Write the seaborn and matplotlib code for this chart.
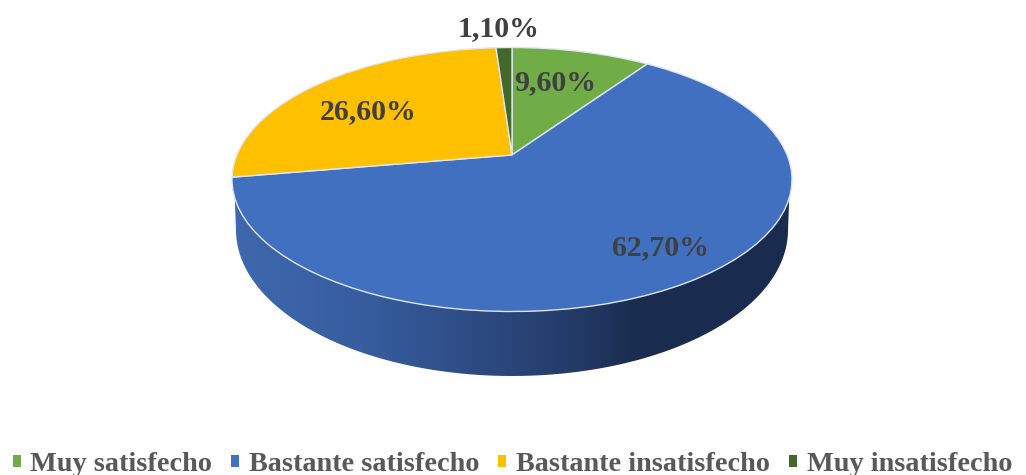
import numpy as np
import matplotlib
matplotlib.use("Agg")
import matplotlib.pyplot as plt
from matplotlib.colors import LinearSegmentedColormap
from matplotlib.patches import Polygon
from matplotlib.transforms import Transform
import seaborn as sns

# Survey results
categories = ["Muy satisfecho", "Bastante satisfecho", "Bastante insatisfecho", "Muy insatisfecho"]
shares = [9.6, 62.7, 26.6, 1.1]
slice_colors = ["#70AD47", "#4270C0", "#FFC000", "#43682B"]
label_centers_px = [(555, 83), (660, 248), (368, 112), (499, 29)]

# Geometry of the drawn disc, in figure pixels
WIDTH, HEIGHT = 1026, 475
TOP_CX, TOP_CY, TOP_RX, TOP_RY = 512, 179.5, 280, 132
BOTTOM_CY, BOTTOM_RX, BOTTOM_RY = 230, 276, 146
APEX_SHIFT = 0.186  # perspective displacement of the pie centre


class TiltedDisc(Transform):
    """Projective map of the unit disc onto itself that moves its centre upward."""
    input_dims = 2
    output_dims = 2

    def __init__(self, shift):
        super().__init__()
        self.shift = shift

    def transform_non_affine(self, values):
        xy = np.asarray(values, dtype=float)
        c = self.shift
        denom = 1 + c * xy[:, 1]
        return np.column_stack([xy[:, 0] * np.sqrt(1 - c * c) / denom, (xy[:, 1] + c) / denom])


def to_data(px, py):
    return (px - TOP_CX) / TOP_RX, (TOP_CY - py) / TOP_RY


sns.set_theme(style="white")
plt.rcParams["font.family"] = ["Liberation Serif", "DejaVu Serif"]
palette = sns.color_palette(slice_colors)

fig = plt.figure(figsize=(WIDTH / 100, HEIGHT / 100), dpi=100)
ax = fig.add_axes([0, 0, 1, 1])

wedges, _ = ax.pie(shares, colors=palette, startangle=90, counterclock=False,
                   wedgeprops={"edgecolor": "#dfe6f2", "linewidth": 1.0})
disc = TiltedDisc(APEX_SHIFT) + ax.transData
for wedge in wedges:
    wedge.set_transform(disc)
    wedge.set_clip_on(False)
    wedge.set_zorder(3)

ax.set_aspect("auto")
xlim = to_data(0, 0)[0], to_data(WIDTH, 0)[0]
ylim = to_data(0, HEIGHT)[1], to_data(0, 0)[1]
ax.set_xlim(*xlim)
ax.set_ylim(*ylim)
ax.axis("off")

# Side wall of the disc: shaded band clipped to the outline of the lower rim
t = np.linspace(np.pi, 2 * np.pi, 200)
lower_x = TOP_CX + BOTTOM_RX * np.cos(t)
lower_y = BOTTOM_CY - BOTTOM_RY * np.sin(t)
wall_px = np.column_stack([lower_x, lower_y])
shoulder_y = TOP_CY + 18.5
shoulder_dx = TOP_RX * np.sqrt(1 - (18.5 / TOP_RY) ** 2)
wall_px = np.vstack([[TOP_CX - shoulder_dx, shoulder_y], wall_px, [TOP_CX + shoulder_dx, shoulder_y]])
wall_data = np.column_stack(to_data(wall_px[:, 0], wall_px[:, 1]))

wall_cmap = LinearSegmentedColormap.from_list(
    "wall",
    [(0.0, "#3F68AE"), (0.25, "#365C9D"), (0.5, "#2A4579"), (0.62, "#233A66"), (0.72, "#1A2D50"), (1.0, "#192C4F")],
)
ramp = np.linspace(0, 1, 512)[None, :]
left, top = to_data(TOP_CX - TOP_RX, shoulder_y)
right, bottom = to_data(TOP_CX + TOP_RX, BOTTOM_CY + BOTTOM_RY + 2)
band = ax.imshow(ramp, cmap=wall_cmap, extent=[left, right, bottom, top], aspect="auto", zorder=1)
band.set_clip_path(Polygon(wall_data, closed=True, transform=ax.transData))
ax.set_xlim(*xlim)
ax.set_ylim(*ylim)

# Percentage labels
for value, (px, py) in zip(shares, label_centers_px):
    x, y = to_data(px, py)
    ax.text(x, y, f"{value:.2f}%".replace(".", ","), ha="center", va="center",
            fontsize=21.5, fontweight="bold", color="#404040", zorder=5)

legend = fig.legend(wedges, categories, loc="center", bbox_to_anchor=(0.4995, 1 - 464.5 / HEIGHT),
                    ncol=4, frameon=False, prop={"size": 20.3, "weight": "bold"},
                    labelcolor="#595959", handlelength=0.28, handleheight=0.28,
                    handletextpad=0.35, columnspacing=0.67, borderpad=0)
for handle in legend.legend_handles:
    handle.set_edgecolor("none")

fig.savefig("out.png", dpi=100, facecolor="white")
